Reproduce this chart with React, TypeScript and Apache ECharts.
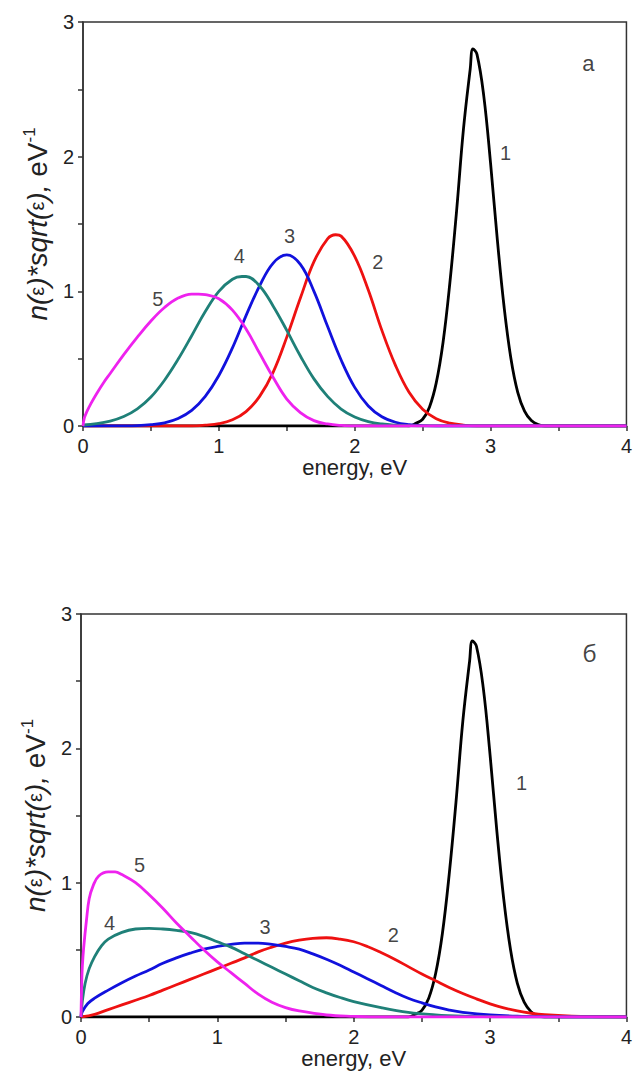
import React, { useEffect, useRef } from "react";
import * as echarts from "echarts";

// ---------- data (energy eV, n(e)*sqrt(e) eV^-1) ----------
const curve1: [number, number][] = [
  [0, 0], [2.4, 0], [2.45, 0.02], [2.5, 0.05], [2.55, 0.14], [2.6, 0.32], [2.65, 0.62], [2.7, 1.06],
  [2.75, 1.6], [2.8, 2.2], [2.85, 2.65], [2.87, 2.8], [2.9, 2.76], [2.95, 2.45], [3.0, 1.95],
  [3.05, 1.38], [3.1, 0.88], [3.15, 0.5], [3.2, 0.25], [3.25, 0.11], [3.3, 0.04], [3.35, 0.01], [3.4, 0], [4, 0],
];

const topCurve2: [number, number][] = [
  [0, 0], [0.8, 0], [0.9, 0.006], [1.0, 0.017], [1.1, 0.046], [1.2, 0.107], [1.3, 0.22], [1.4, 0.4],
  [1.5, 0.66], [1.6, 0.95], [1.7, 1.22], [1.8, 1.39], [1.86, 1.42], [1.9, 1.41], [2.0, 1.26],
  [2.1, 1.01], [2.2, 0.71], [2.3, 0.45], [2.4, 0.25], [2.5, 0.124], [2.6, 0.054], [2.7, 0.021],
  [2.8, 0.007], [2.9, 0], [4, 0],
];

const topCurve3: [number, number][] = [
  [0, 0], [0.3, 0.001], [0.4, 0.003], [0.5, 0.01], [0.6, 0.024], [0.7, 0.056], [0.8, 0.116], [0.9, 0.22],
  [1.0, 0.375], [1.1, 0.58], [1.2, 0.82], [1.3, 1.04], [1.4, 1.21], [1.5, 1.27], [1.6, 1.2],
  [1.7, 1.0], [1.8, 0.74], [1.9, 0.49], [2.0, 0.287], [2.1, 0.149], [2.2, 0.069], [2.3, 0.028],
  [2.4, 0.01], [2.5, 0.003], [2.6, 0], [4, 0],
];

const topCurve4: [number, number][] = [
  [0, 0.0075], [0.1, 0.017], [0.2, 0.036], [0.3, 0.07], [0.4, 0.127], [0.5, 0.215], [0.6, 0.34],
  [0.7, 0.495], [0.8, 0.67], [0.9, 0.85], [1.0, 1.0], [1.1, 1.09], [1.17, 1.11], [1.2, 1.11],
  [1.3, 1.04], [1.4, 0.89], [1.5, 0.71], [1.6, 0.52], [1.7, 0.35], [1.8, 0.22], [1.9, 0.126],
  [2.0, 0.067], [2.1, 0.033], [2.2, 0.015], [2.3, 0.006], [2.4, 0.002], [2.5, 0], [4, 0],
];

const topCurve5: [number, number][] = [
  [0, 0], [0.01, 0.06], [0.03, 0.11], [0.06, 0.17], [0.1, 0.24], [0.15, 0.32], [0.2, 0.39],
  [0.3, 0.53], [0.4, 0.66], [0.5, 0.78], [0.6, 0.88], [0.7, 0.95], [0.8, 0.98], [0.85, 0.98],
  [0.9, 0.975], [1.0, 0.945], [1.1, 0.86], [1.2, 0.72], [1.3, 0.54], [1.4, 0.36], [1.5, 0.2],
  [1.6, 0.1], [1.7, 0.04], [1.8, 0.015], [1.9, 0.004], [2.0, 0], [4, 0],
];

const botCurve2: [number, number][] = [
  [0, 0], [0.1, 0.02], [0.2, 0.055], [0.3, 0.09], [0.4, 0.125], [0.5, 0.16], [0.6, 0.2], [0.7, 0.24],
  [0.8, 0.28], [0.9, 0.32], [1.0, 0.36], [1.1, 0.4], [1.2, 0.44], [1.3, 0.485], [1.4, 0.52],
  [1.5, 0.55], [1.6, 0.572], [1.7, 0.586], [1.8, 0.59], [1.9, 0.58], [2.0, 0.56], [2.1, 0.525],
  [2.2, 0.48], [2.3, 0.43], [2.4, 0.375], [2.5, 0.32], [2.6, 0.27], [2.7, 0.22], [2.8, 0.175],
  [2.9, 0.135], [3.0, 0.098], [3.1, 0.068], [3.2, 0.045], [3.3, 0.028], [3.4, 0.017], [3.6, 0.006],
  [3.8, 0.002], [4.0, 0],
];

const botCurve3: [number, number][] = [
  [0, 0], [0.01, 0.04], [0.05, 0.1], [0.1, 0.14], [0.2, 0.2], [0.3, 0.255], [0.4, 0.305], [0.5, 0.35],
  [0.6, 0.4], [0.7, 0.44], [0.8, 0.475], [0.9, 0.505], [1.0, 0.525], [1.1, 0.54], [1.2, 0.55],
  [1.3, 0.55], [1.4, 0.54], [1.5, 0.525], [1.6, 0.505], [1.7, 0.47], [1.8, 0.43], [1.9, 0.385],
  [2.0, 0.335], [2.1, 0.285], [2.2, 0.235], [2.3, 0.185], [2.4, 0.14], [2.5, 0.105], [2.6, 0.075],
  [2.7, 0.052], [2.8, 0.035], [3.0, 0.015], [3.2, 0.006], [3.4, 0.002], [3.6, 0], [4, 0],
];

const botCurve4: [number, number][] = [
  [0, 0], [0.01, 0.12], [0.03, 0.25], [0.06, 0.36], [0.1, 0.45], [0.15, 0.53], [0.2, 0.58],
  [0.3, 0.63], [0.4, 0.655], [0.5, 0.66], [0.6, 0.655], [0.7, 0.645], [0.8, 0.63], [0.9, 0.6],
  [1.0, 0.56], [1.1, 0.52], [1.2, 0.47], [1.3, 0.42], [1.4, 0.37], [1.5, 0.32], [1.6, 0.27],
  [1.7, 0.22], [1.8, 0.18], [1.9, 0.145], [2.0, 0.115], [2.2, 0.07], [2.4, 0.035], [2.6, 0.016],
  [2.8, 0.006], [3.0, 0.002], [3.2, 0], [4, 0],
];

const botCurve5: [number, number][] = [
  [0, 0], [0.005, 0.25], [0.01, 0.38], [0.02, 0.52], [0.04, 0.72], [0.06, 0.88], [0.09, 0.98],
  [0.13, 1.05], [0.2, 1.08], [0.25, 1.08], [0.3, 1.06], [0.4, 1.0], [0.5, 0.91], [0.6, 0.81],
  [0.7, 0.7], [0.8, 0.6], [0.9, 0.5], [1.0, 0.41], [1.1, 0.33], [1.2, 0.25], [1.3, 0.17],
  [1.4, 0.11], [1.5, 0.07], [1.6, 0.045], [1.8, 0.015], [2.0, 0.005], [2.2, 0], [4, 0],
];

// curve labels: [energy, value, text]
const topLabels: [number, number, string][] = [
  [3.11, 2.03, "1"], [2.17, 1.22, "2"], [1.52, 1.41, "3"], [1.15, 1.26, "4"], [0.55, 0.94, "5"],
];
const botLabels: [number, number, string][] = [
  [3.23, 1.74, "1"], [2.29, 0.61, "2"], [1.35, 0.67, "3"], [0.21, 0.7, "4"], [0.43, 1.13, "5"],
];
const panelTags: [number, number, string][][] = [[[3.72, 2.69, "а"]], [[3.73, 2.71, "б"]]];

const xTicks = [0, 1, 2, 3, 4];
const yTicks = [0, 1, 2, 3];

const COLORS = { c1: "#000000", c2: "#ee1111", c3: "#1111dd", c4: "#1f8078", c5: "#ee22ee" };

const FONT = "'Liberation Sans', Arial, sans-serif";

export default function App() {
  const ref = useRef<HTMLDivElement>(null);
  useEffect(() => {
    if (!ref.current) return;
    const chart = echarts.init(ref.current, null, { renderer: "svg" });

    const axisLineStyle = { color: "#333", width: 1.5 };
    const mkX = (gridIndex: number) => ({
      type: "value",
      gridIndex,
      min: xTicks[0],
      max: xTicks[xTicks.length - 1],
      interval: 1,
      name: "energy, eV",
      nameLocation: "middle",
      nameGap: 30,
      nameTextStyle: { fontFamily: FONT, fontSize: 22, color: "#222" },
      axisLine: { show: true, onZero: false, lineStyle: axisLineStyle },
      axisTick: { show: true, length: 5, lineStyle: axisLineStyle },
      minorTick: { show: true, splitNumber: 2, length: 5, lineStyle: axisLineStyle },
      splitLine: { show: false },
      axisLabel: { fontFamily: FONT, fontSize: 20, color: "#222", margin: 10 },
    });
    const mkY = (gridIndex: number) => ({
      type: "value",
      gridIndex,
      min: yTicks[0],
      max: yTicks[yTicks.length - 1],
      interval: 1,
      name: "{i|n(}{e|ε}{i|)*sqrt(}{e|ε}{i|),} {n|eV}{s|-1}",
      nameLocation: "middle",
      nameRotate: 90,
      nameGap: 30,
      nameTextStyle: {
        fontFamily: FONT,
        fontSize: 28,
        color: "#222",
        rich: {
          i: { fontFamily: FONT, fontSize: 28, fontStyle: "italic", color: "#222" },
          e: { fontFamily: FONT, fontSize: 20, color: "#222" },
          n: { fontFamily: FONT, fontSize: 28, color: "#222" },
          s: { fontFamily: FONT, fontSize: 17, color: "#222", padding: [0, 0, 15, 0] },
        },
      },
      axisLine: { show: true, lineStyle: axisLineStyle },
      axisTick: { show: true, length: 5, lineStyle: axisLineStyle },
      minorTick: { show: true, splitNumber: 2, length: 5, lineStyle: axisLineStyle },
      splitLine: { show: false },
      axisLabel: { fontFamily: FONT, fontSize: 20, color: "#222", margin: 9 },
    });

    const line = (data: [number, number][], color: string, idx: number) => ({
      type: "line",
      xAxisIndex: idx,
      yAxisIndex: idx,
      data,
      showSymbol: false,
      smooth: 0.4,
      lineStyle: { color, width: 2.8 },
      itemStyle: { color },
      silent: true,
      z: 2,
    });
    const labels = (data: [number, number, string][], idx: number, fontSize: number, fontFamily: string) => ({
      type: "scatter",
      xAxisIndex: idx,
      yAxisIndex: idx,
      data,
      symbolSize: 0,
      silent: true,
      z: 5,
      label: {
        show: true,
        position: "inside",
        formatter: (p: any) => p.value[2],
        fontFamily,
        fontSize,
        color: "#111",
      },
    });

    chart.setOption({
      animation: false,
      backgroundColor: "#ffffff",
      grid: [
        { left: 83, right: 7, top: 22, height: 404, show: true, borderColor: "#333", borderWidth: 1.5 },
        { left: 81, right: 7, top: 614, height: 403, show: true, borderColor: "#333", borderWidth: 1.5 },
      ],
      xAxis: [mkX(0), mkX(1)],
      yAxis: [mkY(0), mkY(1)],
      series: [
        line(curve1, COLORS.c1, 0),
        line(topCurve2, COLORS.c2, 0),
        line(topCurve3, COLORS.c3, 0),
        line(topCurve4, COLORS.c4, 0),
        line(topCurve5, COLORS.c5, 0),
        labels(topLabels, 0, 20, FONT),
        labels(panelTags[0], 0, 22, FONT),
        line(curve1, COLORS.c1, 1),
        line(botCurve2, COLORS.c2, 1),
        line(botCurve3, COLORS.c3, 1),
        line(botCurve4, COLORS.c4, 1),
        line(botCurve5, COLORS.c5, 1),
        labels(botLabels, 1, 20, FONT),
        labels(panelTags[1], 1, 24, "'Open Sans', 'Noto Sans', sans-serif"),
      ],
    });
    return () => chart.dispose();
  }, []);

  return (
    <div
      ref={ref}
      style={{ position: "absolute", left: 0, top: 0, width: 635, height: 1077, background: "#fff" }}
    />
  );
}
